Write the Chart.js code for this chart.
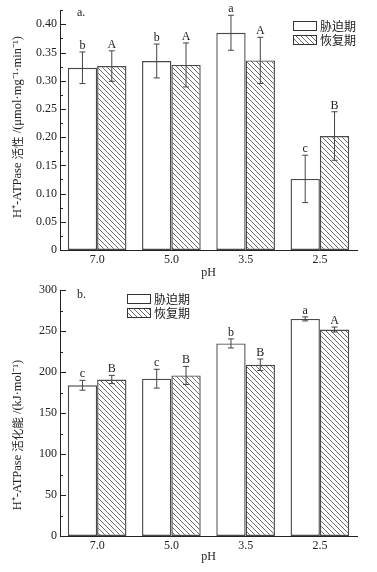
<!DOCTYPE html>
<html>
<head>
<meta charset="utf-8">
<script src="https://cdn.jsdelivr.net/npm/chart.js@4.4.1/dist/chart.umd.min.js"></script>
<style>
  body { margin: 0; background: #fff; }
  canvas { display: block; }
</style>
</head>
<body>
<canvas id="activity" width="377" height="280"></canvas>
<canvas id="energy" width="377" height="292"></canvas>
<script>
// pH treatments
const categories = ['7.0', '5.0', '3.5', '2.5'];
const seriesNames = ['胁迫期', '恢复期'];

// a. H+-ATPase activity
const activityStress = [0.323, 0.335, 0.385, 0.126];
const activityStressErr = [0.028, 0.030, 0.031, 0.042];
const activityRecovery = [0.326, 0.328, 0.336, 0.202];
const activityRecoveryErr = [0.027, 0.039, 0.041, 0.043];
const activityStressLetters = ['b', 'b', 'a', 'c'];
const activityRecoveryLetters = ['A', 'A', 'A', 'B'];

// b. H+-ATPase activation energy
const energyStress = [184, 192, 235, 265];
const energyStressErr = [6, 11.5, 5.5, 2.5];
const energyRecovery = [191, 196, 209, 252];
const energyRecoveryErr = [5, 11, 7, 3];
const energyStressLetters = ['c', 'c', 'b', 'a'];
const energyRecoveryLetters = ['B', 'B', 'B', 'A'];

const FONT = "'Liberation Serif', 'Noto Sans CJK SC', serif";
const CJK = "'Noto Sans CJK SC', sans-serif";
const INK = '#222';
const EDGE = '#4a4a4a';

Chart.defaults.font.family = FONT;
Chart.defaults.font.size = 12;
Chart.defaults.color = INK;

// diagonal hatch for the recovery bars
function makeHatch() {
    const c = document.createElement('canvas');
    c.width = 5; c.height = 5;
    const g = c.getContext('2d');
    g.fillStyle = '#fff';
    g.fillRect(0, 0, 5, 5);
    g.strokeStyle = '#6a6a6a';
    g.lineWidth = 1;
    g.beginPath();
    g.moveTo(-1, -1); g.lineTo(6, 6);
    g.moveTo(-1, 4); g.lineTo(1, 6);
    g.moveTo(4, -1); g.lineTo(6, 1);
    g.stroke();
    return g.createPattern(c, 'repeat');
}
const hatch = makeHatch();

// error bars, letters, inward ticks, y title, legend, panel label
const decorPlugin = {
    id: 'decor',
    afterDatasetsDraw(chart, args, opts) {
        const ctx = chart.ctx;
        const y = chart.scales.y;
        const area = chart.chartArea;
        ctx.save();

        chart.data.datasets.forEach((ds, di) => {
            const meta = chart.getDatasetMeta(di);
            meta.data.forEach((bar, i) => {
                const v = ds.data[i], e = ds.errors[i];
                const yt = y.getPixelForValue(v + e);
                const yb = y.getPixelForValue(v - e);
                ctx.strokeStyle = '#444';
                ctx.lineWidth = 1;
                ctx.beginPath();
                ctx.moveTo(bar.x, yt); ctx.lineTo(bar.x, yb);
                ctx.moveTo(bar.x - 3, yt); ctx.lineTo(bar.x + 3, yt);
                ctx.moveTo(bar.x - 3, yb); ctx.lineTo(bar.x + 3, yb);
                ctx.stroke();
                ctx.fillStyle = INK;
                ctx.font = '12px ' + FONT;
                ctx.textAlign = 'center';
                ctx.textBaseline = 'alphabetic';
                ctx.fillText(ds.letters[i], bar.x, yt - 3);
            });
        });

        // inward major and minor ticks on the y axis
        ctx.strokeStyle = INK;
        ctx.lineWidth = 1;
        ctx.beginPath();
        for (let k = 0; k * opts.minor <= y.max + 1e-9; k++) {
            const py = Math.round(y.getPixelForValue(k * opts.minor)) + 0.5;
            const len = k % 2 === 0 ? 6 : 3;
            ctx.moveTo(area.left, py); ctx.lineTo(area.left + len, py);
        }
        ctx.stroke();

        // rotated y title, serif latin with CJK part
        const parts = opts.yTitle.map(p => ({ t: p[0], f: p[1] ? '11.5px ' + CJK : '12.5px ' + FONT }));
        let total = 0;
        parts.forEach(p => { ctx.font = p.f; p.w = ctx.measureText(p.t).width; total += p.w; });
        ctx.save();
        ctx.translate(opts.yTitleX, opts.yTitleY);
        ctx.rotate(-Math.PI / 2);
        ctx.fillStyle = INK;
        ctx.textAlign = 'left';
        ctx.textBaseline = 'middle';
        let tx = -total / 2;
        parts.forEach(p => { ctx.font = p.f; ctx.fillText(p.t, tx, 0); tx += p.w; });
        ctx.restore();

        // panel label
        ctx.fillStyle = INK;
        ctx.font = '12px ' + FONT;
        ctx.textAlign = 'left';
        ctx.textBaseline = 'middle';
        ctx.fillText(opts.panel, area.left + 17, opts.panelY);

        // legend
        chart.data.datasets.forEach((ds, di) => {
            const lx = opts.legendX, ly = opts.legendY + di * 14;
            ctx.fillStyle = ds.backgroundColor;
            ctx.fillRect(lx, ly, 23, 9);
            ctx.strokeStyle = '#333';
            ctx.strokeRect(lx + 0.5, ly + 0.5, 23, 9);
            ctx.fillStyle = INK;
            ctx.font = '12px ' + CJK;
            ctx.textBaseline = 'middle';
            ctx.fillText(ds.label, lx + 27, ly + 5);
        });
        ctx.restore();
    }
};

function makeChart(id, stress, stressErr, stressLetters, recovery, recoveryErr, recoveryLetters,
                   yMax, step, fmt, pad, xHeight, deco) {
    return new Chart(document.getElementById(id), {
        type: 'bar',
        data: {
            labels: categories,
            datasets: [{
                label: seriesNames[0],
                data: stress,
                errors: stressErr,
                letters: stressLetters,
                backgroundColor: '#fff',
                borderColor: EDGE,
                borderWidth: 1.4,
                borderSkipped: false
            }, {
                label: seriesNames[1],
                data: recovery,
                errors: recoveryErr,
                letters: recoveryLetters,
                backgroundColor: hatch,
                borderColor: EDGE,
                borderWidth: 1.4,
                borderSkipped: false
            }]
        },
        options: {
            responsive: false,
            animation: false,
            layout: { padding: pad },
            categoryPercentage: 0.79,
            barPercentage: 1.0,
            plugins: {
                legend: { display: false },
                tooltip: { enabled: false },
                decor: deco
            },
            scales: {
                x: {
                    afterFit: s => { s.height = xHeight; },
                    grid: { display: false, drawTicks: false },
                    border: { display: true, color: INK, width: 1 },
                    ticks: { padding: 3, color: INK },
                    title: { display: true, text: 'pH', padding: 0, color: INK }
                },
                y: {
                    min: 0,
                    max: yMax,
                    afterFit: s => { s.width = 60; },
                    grid: { display: false, drawTicks: false },
                    border: { display: true, color: INK, width: 1 },
                    ticks: {
                        stepSize: step,
                        includeBounds: false,
                        padding: 3,
                        color: INK,
                        callback: fmt
                    }
                }
            }
        },
        plugins: [decorPlugin]
    });
}

makeChart('activity',
    activityStress, activityStressErr, activityStressLetters,
    activityRecovery, activityRecoveryErr, activityRecoveryLetters,
    0.425, 0.05, v => (v === 0 ? '0' : v.toFixed(2)),
    { top: 10, right: 20, left: 0, bottom: 0 }, 30,
    { minor: 0.025, panel: 'a.', panelY: 13, legendX: 293, legendY: 21,
      yTitle: [['H⁺-ATPase ', false], ['活性', true], [' /(μmol·mg⁻¹·min⁻¹)', false]],
      yTitleX: 18, yTitleY: 127 });

makeChart('energy',
    energyStress, energyStressErr, energyStressLetters,
    energyRecovery, energyRecoveryErr, energyRecoveryLetters,
    300, 50, v => String(v),
    { top: 8, right: 20, left: 0, bottom: 8 }, 28,
    { minor: 25, panel: 'b.', panelY: 15, legendX: 127, legendY: 14,
      yTitle: [['H⁺-ATPase ', false], ['活化能', true], [' /(kJ·mol⁻¹)', false]],
      yTitleX: 18, yTitleY: 155 });
</script>
</body>
</html>
